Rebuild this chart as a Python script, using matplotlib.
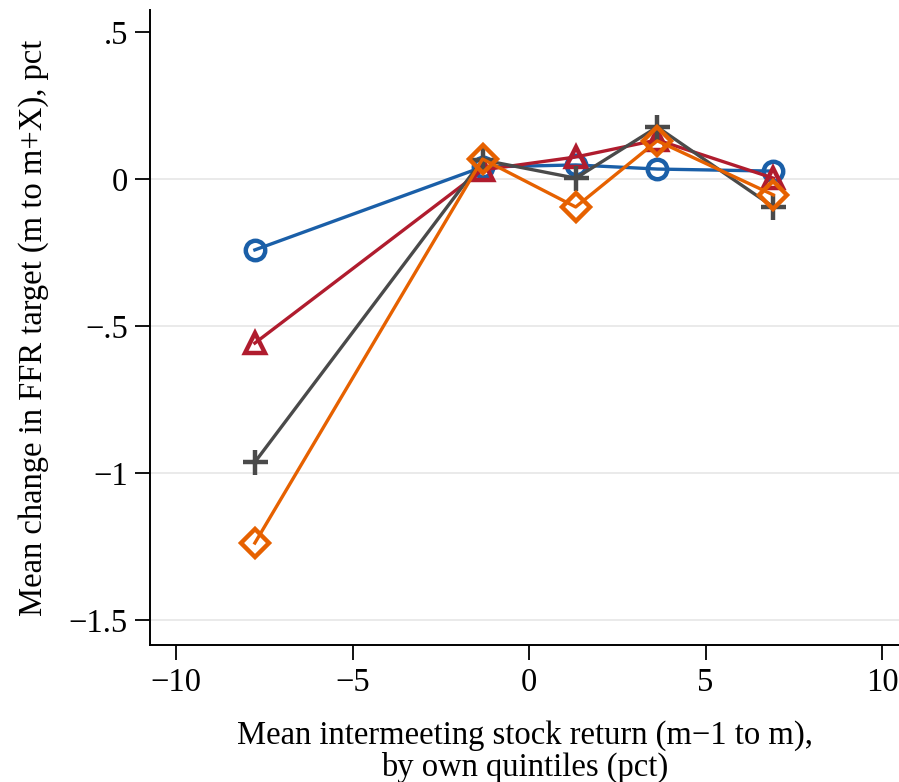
import matplotlib.pyplot as plt

x_vals = [-7.77, -1.32, 1.32, 3.63, 6.92]
blue_vals = [-0.241, 0.041, 0.048, 0.034, 0.027]
red_vals = [-0.558, 0.031, 0.075, 0.133, 0.003]
gray_vals = [-0.963, 0.065, 0.003, 0.177, -0.095]
orange_vals = [-1.238, 0.068, -0.095, 0.13, -0.054]

xticks = [-10, -5, 0, 5, 10]
xtick_labels = ['\u221210', '\u22125', '0', '5', '10']
yticks = [0.5, 0, -0.5, -1, -1.5]
ytick_labels = ['.5', '0', '\u2212.5', '\u22121', '\u22121.5']

plt.rcParams['font.family'] = ['Liberation Serif', 'DejaVu Serif']
plt.rcParams['font.size'] = 23.5

fig = plt.figure(figsize=(8.99, 7.82), dpi=100)
ax = fig.add_axes([0.1669, 0.1752, 0.8331, 0.812])

series = [
    (blue_vals, '#1a5fa8', 'o'),
    (red_vals, '#b01c2e', '^'),
    (gray_vals, '#4a4a4a', '+'),
    (orange_vals, '#e66100', 'D'),
]
for vals, col, mk in series:
    size = 18 if mk == '+' else (14 if mk == 'D' else 14)
    ax.plot(x_vals, vals, color=col, lw=2.4, marker=mk, ms=size,
            mfc='none', mec=col, mew=3.2)

for y in [0, -0.5, -1, -1.5]:
    ax.axhline(y, color='#e6e6e6', lw=1.2, zorder=0)

ax.set_xlim(-10.74, 10.48)
ax.set_ylim(-1.585, 0.575)
ax.set_xticks(xticks)
ax.set_xticklabels(xtick_labels)
ax.set_yticks(yticks)
ax.set_yticklabels(ytick_labels)
ax.tick_params(direction='out', length=11, width=1.3, pad=5)
ax.spines['top'].set_visible(False)
ax.spines['right'].set_visible(False)
ax.spines['left'].set_linewidth(1.4)
ax.spines['bottom'].set_linewidth(1.4)

ax.set_xlabel('Mean intermeeting stock return (m\u22121 to m),\nby own quintiles (pct)',
              labelpad=16, linespacing=1.05)
ax.set_ylabel('Mean change in FFR target (m to m+X), pct', labelpad=14)

fig.savefig('out.png', dpi=100)
